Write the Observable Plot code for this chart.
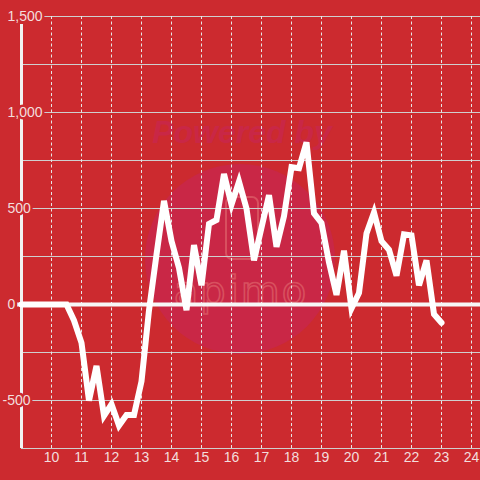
<!DOCTYPE html>
<html>
<head>
<meta charset="utf-8">
<script src="https://cdn.jsdelivr.net/npm/d3@7"></script>
<script src="https://cdn.jsdelivr.net/npm/@observablehq/plot@0.6"></script>
<style>
  html, body { margin: 0; padding: 0; background: #cc2a2f; }
  #chart { width: 480px; height: 480px; overflow: hidden; }
</style>
</head>
<body>
<div id="chart"></div>
<script>
const hours = [9, 9.25, 9.5, 9.75, 10, 10.25, 10.5, 10.75, 11, 11.25, 11.5, 11.75,
  12, 12.25, 12.5, 12.75, 13, 13.25, 13.5, 13.75, 14, 14.25, 14.5, 14.75,
  15, 15.25, 15.5, 15.75, 16, 16.25, 16.5, 16.75, 17, 17.25, 17.5, 17.75,
  18, 18.25, 18.5, 18.75, 19, 19.25, 19.5, 19.75, 20, 20.25, 20.5, 20.75,
  21, 21.25, 21.5, 21.75, 22, 22.25, 22.5, 22.75, 23];
const values = [0, 0, 0, 0, 0, 0, 0, -83, -200, -500, -320, -580,
  -520, -630, -575, -575, -400, -30, 260, 540, 330, 190, -30, 310,
  100, 420, 440, 680, 520, 640, 500, 230, 400, 570, 300, 460,
  715, 710, 845, 475, 425, 220, 50, 280, -20, 60, 370, 480,
  330, 285, 150, 365, 360, 100, 230, -50, -95];
const yTicks = [-750, -500, -250, 0, 250, 500, 750, 1000, 1250, 1500];
const yLabelValues = [-500, 0, 500, 1000, 1500];
const xTicks = [10, 11, 12, 13, 14, 15, 16, 17, 18, 19, 20, 21, 22, 23, 24];

const BG = "#cc2a2f";
const TXT = "#f3dddd";
const data = hours.map((h, i) => ({h, v: values[i]}));
const fmt = d3.format(",");

const watermark = () => {
  const g = d3.create("svg:g");
  g.append("circle").attr("cx", 240).attr("cy", 259).attr("r", 95).attr("fill", "#c92746");
  g.append("text").attr("x", 242).attr("y", 143).attr("text-anchor", "middle")
    .attr("font-family", "Liberation Sans, Arial, sans-serif").attr("font-size", 32)
    .attr("font-weight", "bold").attr("font-style", "italic")
    .attr("fill", "#c92746").text("Powered by");
  g.append("rect").attr("x", 226).attr("y", 197).attr("width", 32).attr("height", 62)
    .attr("rx", 6).attr("fill", "none").attr("stroke", "#d8505f").attr("stroke-width", 2);
  g.append("text").attr("x", 241).attr("y", 305).attr("text-anchor", "middle")
    .attr("font-family", "DejaVu Sans, sans-serif").attr("font-size", 40)
    .attr("fill", "none").attr("stroke", "#d8505f").attr("stroke-width", 1.6)
    .attr("letter-spacing", 2).text("apimo");
  return g.node();
};

const chart = Plot.plot({
  width: 480,
  height: 480,
  marginLeft: 21,
  marginRight: 0,
  marginTop: 16,
  marginBottom: 32,
  style: {background: BG, fontFamily: "Liberation Sans, Arial, sans-serif", overflow: "visible"},
  x: {domain: [9, 24.3], axis: null},
  y: {domain: [-750, 1500], axis: null},
  marks: [
    watermark,
    Plot.ruleY(yTicks, {stroke: "#cfcfcf", strokeWidth: 1}),
    Plot.ruleX(xTicks, {stroke: "#e6e6e6", strokeWidth: 1, strokeDasharray: "3,2.5"}),
    Plot.ruleX([9], {stroke: "#f2f2f2", strokeWidth: 3, insetTop: 8}),
    Plot.ruleY([0], {stroke: "#f7f7f7", strokeWidth: 4, insetLeft: -4}),
    Plot.line(data, {x: "h", y: "v", stroke: "white", strokeWidth: 6, strokeLinejoin: "miter", strokeMiterlimit: 4}),
    Plot.text(yLabelValues.filter(d => d >= 0), {x: () => 9, y: d => d, text: d => fmt(d),
      textAnchor: "start", dx: -14, fontSize: 14, fill: TXT, stroke: BG, strokeWidth: 5}),
    Plot.text(yLabelValues.filter(d => d < 0), {x: () => 9, y: d => d, text: d => String(d),
      textAnchor: "start", dx: -19, fontSize: 14, fill: TXT, stroke: BG, strokeWidth: 5}),
    Plot.text(xTicks, {x: d => d, frameAnchor: "bottom", dy: 13, text: d => String(d),
      fontSize: 14, fill: TXT})
  ]
});
document.getElementById("chart").append(chart);
</script>
</body>
</html>
